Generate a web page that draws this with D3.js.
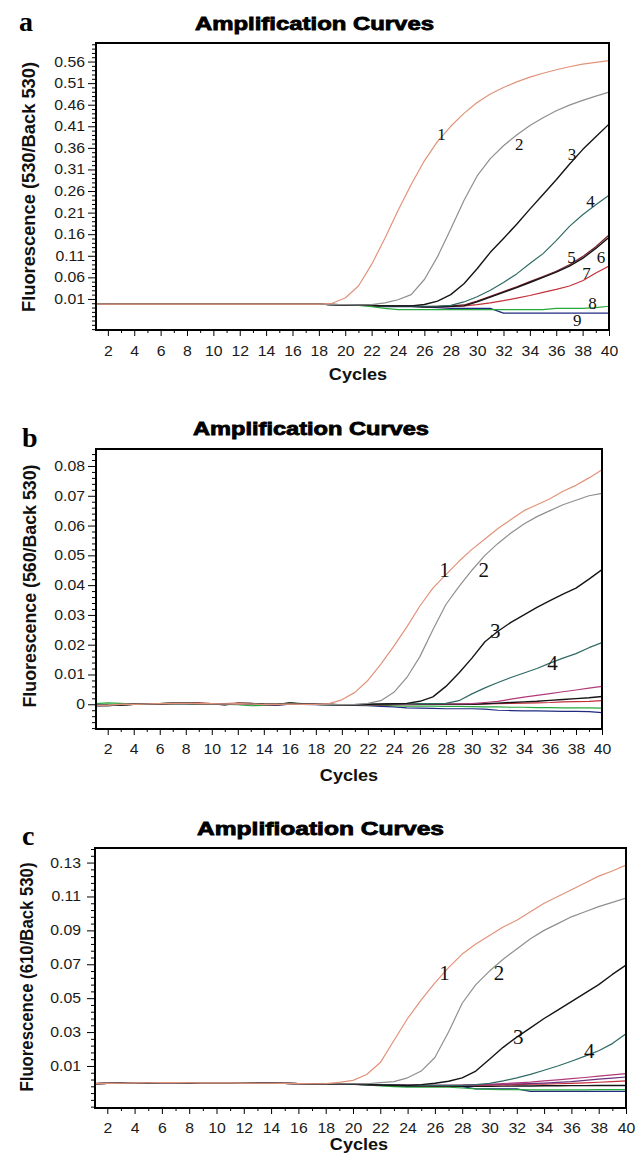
<!DOCTYPE html>
<html>
<head>
<meta charset="utf-8">
<script src="https://cdn.jsdelivr.net/npm/d3@7"></script>
<style>
  body { margin: 0; background: #fff; }
  svg { display: block; }
</style>
</head>
<body>
<div id="container"></div>
<script>
//*** chart data ***//
var cycles = [1,2,3,4,5,6,7,8,9,10,11,12,13,14,15,16,17,18,19,20,
              21,22,23,24,25,26,27,28,29,30,31,32,33,34,35,36,37,38,39,40];
var xTickValues = [2,4,6,8,10,12,14,16,18,20,22,24,26,28,30,32,34,36,38,40];
var aTickValues = [0.01,0.06,0.11,0.16,0.21,0.26,0.31,0.36,0.41,0.46,0.51,0.56];
var bTickValues = [0,0.01,0.02,0.03,0.04,0.05,0.06,0.07,0.08];
var cTickValues = [0.01,0.03,0.05,0.07,0.09,0.11,0.13];

// panel a: 530 channel
var aCurve1 = [-0.002,-0.002,-0.002,-0.002,-0.002,-0.002,-0.002,-0.002,-0.002,-0.002,
               -0.002,-0.002,-0.002,-0.002,-0.002,-0.002,-0.002,-0.002,0.000,0.012,
               0.040,0.090,0.150,0.215,0.275,0.330,0.375,0.410,0.440,0.465,
               0.485,0.500,0.513,0.524,0.533,0.541,0.548,0.554,0.558,0.562];
var aCurve2 = [-0.002,-0.002,-0.002,-0.002,-0.002,-0.002,-0.002,-0.002,-0.002,-0.002,
               -0.002,-0.002,-0.002,-0.002,-0.002,-0.002,-0.002,-0.002,-0.003,-0.003,
               -0.004,-0.003,0.001,0.008,0.020,0.055,0.108,0.172,0.238,0.295,
               0.335,0.365,0.390,0.412,0.430,0.446,0.459,0.470,0.480,0.489];
var aCurve3 = [-0.002,-0.002,-0.002,-0.002,-0.002,-0.002,-0.002,-0.002,-0.002,-0.002,
               -0.002,-0.002,-0.002,-0.002,-0.002,-0.002,-0.002,-0.002,-0.003,-0.004,
               -0.004,-0.005,-0.006,-0.006,-0.006,-0.003,0.005,0.020,0.045,0.080,
               0.118,0.150,0.183,0.218,0.252,0.286,0.322,0.356,0.386,0.415];
var aCurve4 = [-0.002,-0.002,-0.002,-0.002,-0.002,-0.002,-0.002,-0.002,-0.002,-0.002,
               -0.002,-0.002,-0.002,-0.002,-0.002,-0.002,-0.002,-0.002,-0.003,-0.004,
               -0.004,-0.005,-0.006,-0.006,-0.007,-0.007,-0.007,-0.005,0.003,0.015,
               0.030,0.048,0.068,0.092,0.115,0.145,0.178,0.205,0.228,0.250];
var aCurve5 = [-0.002,-0.002,-0.002,-0.002,-0.002,-0.002,-0.002,-0.002,-0.002,-0.002,
               -0.002,-0.002,-0.002,-0.002,-0.002,-0.002,-0.002,-0.002,-0.003,-0.004,
               -0.004,-0.005,-0.006,-0.007,-0.007,-0.008,-0.008,-0.007,-0.006,0.003,
               0.014,0.025,0.036,0.048,0.060,0.072,0.086,0.104,0.127,0.153];
var aCurve6 = [-0.002,-0.002,-0.002,-0.002,-0.002,-0.002,-0.002,-0.002,-0.002,-0.002,
               -0.002,-0.002,-0.002,-0.002,-0.002,-0.002,-0.002,-0.002,-0.003,-0.004,
               -0.004,-0.005,-0.006,-0.007,-0.007,-0.008,-0.007,-0.006,-0.004,0.005,
               0.016,0.027,0.038,0.050,0.062,0.074,0.089,0.108,0.131,0.158];
var aCurve7 = [-0.002,-0.002,-0.002,-0.002,-0.002,-0.002,-0.002,-0.002,-0.002,-0.002,
               -0.002,-0.002,-0.002,-0.002,-0.002,-0.002,-0.002,-0.002,-0.003,-0.004,
               -0.004,-0.005,-0.006,-0.007,-0.007,-0.008,-0.008,-0.008,-0.006,-0.003,
               0.001,0.006,0.012,0.018,0.025,0.032,0.040,0.052,0.070,0.086];
var aCurve8 = [-0.002,-0.002,-0.002,-0.002,-0.002,-0.002,-0.002,-0.002,-0.002,-0.002,
               -0.002,-0.002,-0.002,-0.002,-0.002,-0.002,-0.002,-0.002,-0.003,-0.004,
               -0.005,-0.008,-0.012,-0.015,-0.015,-0.015,-0.015,-0.015,-0.015,-0.015,
               -0.015,-0.015,-0.015,-0.015,-0.015,-0.012,-0.012,-0.012,-0.010,-0.007];
var aCurve9 = [-0.002,-0.002,-0.002,-0.002,-0.002,-0.002,-0.002,-0.002,-0.002,-0.002,
               -0.002,-0.002,-0.002,-0.002,-0.002,-0.002,-0.002,-0.002,-0.003,-0.004,
               -0.004,-0.006,-0.008,-0.008,-0.008,-0.009,-0.010,-0.012,-0.012,-0.012,
               -0.012,-0.023,-0.023,-0.023,-0.023,-0.023,-0.023,-0.023,-0.023,-0.023];

// panel b: 560 channel
var bCurve1 = [-0.0004,-0.0003,0.0000,0.0000,0.0001,0.0002,0.0003,0.0003,0.0002,0.0002,
               0.0001,0.0002,0.0001,0.0000,0.0000,0.0001,0.0000,0.0000,0.0002,0.0015,
               0.0040,0.0080,0.0135,0.0195,0.0260,0.0330,0.0390,0.0435,0.0480,0.0520,
               0.0555,0.0590,0.0620,0.0650,0.0670,0.0690,0.0715,0.0735,0.0760,0.0787];
var bCurve2 = [-0.0004,-0.0003,0.0000,0.0000,0.0001,0.0002,0.0003,0.0003,0.0002,0.0001,
               0.0001,0.0002,0.0001,-0.0001,0.0000,0.0001,0.0000,0.0000,0.0000,-0.0001,
               0.0000,0.0003,0.0012,0.0040,0.0090,0.0160,0.0250,0.0335,0.0395,0.0450,
               0.0500,0.0540,0.0575,0.0605,0.0630,0.0650,0.0670,0.0685,0.0700,0.0708];
var bCurve3 = [-0.0004,-0.0004,-0.0002,0.0000,0.0001,0.0002,0.0004,0.0004,0.0003,0.0002,
               -0.0002,0.0003,0.0003,0.0000,-0.0001,0.0004,0.0001,0.0000,0.0000,-0.0002,
               -0.0002,0.0000,0.0001,0.0002,0.0003,0.0010,0.0025,0.0060,0.0105,0.0155,
               0.0210,0.0245,0.0275,0.0300,0.0325,0.0348,0.0370,0.0390,0.0420,0.0452];
var bCurve4 = [-0.0003,-0.0003,-0.0001,0.0000,0.0001,0.0002,0.0003,0.0003,0.0002,0.0001,
               0.0000,0.0002,0.0002,-0.0001,-0.0002,0.0003,0.0000,0.0000,-0.0001,-0.0002,
               -0.0002,-0.0002,0.0000,0.0001,0.0001,0.0002,0.0002,0.0003,0.0012,0.0035,
               0.0055,0.0073,0.0090,0.0105,0.0120,0.0138,0.0155,0.0170,0.0190,0.0207];
var bCurve5 = [-0.0003,-0.0002,0.0000,0.0000,0.0001,0.0001,0.0002,0.0002,0.0002,0.0001,
               0.0000,0.0001,0.0001,-0.0001,-0.0003,0.0002,0.0000,0.0000,-0.0001,-0.0002,
               -0.0002,-0.0002,-0.0001,0.0000,0.0000,0.0001,0.0001,0.0001,0.0001,0.0002,
               0.0006,0.0010,0.0017,0.0024,0.0030,0.0036,0.0042,0.0048,0.0054,0.0060];
var bCurve6 = [-0.0004,-0.0004,-0.0003,0.0000,0.0001,0.0002,0.0004,0.0003,0.0002,0.0002,
               -0.0001,0.0003,0.0002,0.0000,0.0000,0.0004,0.0002,0.0000,-0.0001,-0.0002,
               -0.0002,-0.0001,-0.0001,0.0000,0.0000,0.0000,0.0000,0.0000,0.0000,0.0000,
               0.0002,0.0004,0.0006,0.0008,0.0010,0.0013,0.0016,0.0019,0.0022,0.0026];
var bCurve7 = [0.0002,0.0005,0.0003,0.0001,0.0000,0.0000,0.0001,0.0001,0.0000,0.0000,
               0.0000,-0.0001,-0.0005,-0.0004,0.0000,0.0005,0.0001,0.0000,-0.0002,-0.0003,
               -0.0003,-0.0004,-0.0004,-0.0005,-0.0006,-0.0006,-0.0006,-0.0007,-0.0007,-0.0008,
               -0.0009,-0.0009,-0.0010,-0.0010,-0.0011,-0.0011,-0.0012,-0.0012,-0.0012,-0.0013];
var bCurve8 = [-0.0003,-0.0003,-0.0001,0.0000,0.0000,0.0000,0.0001,0.0001,0.0000,0.0000,
               0.0000,0.0000,-0.0001,-0.0003,-0.0004,0.0000,0.0000,-0.0001,-0.0002,-0.0003,
               -0.0004,-0.0005,-0.0007,-0.0009,-0.0012,-0.0013,-0.0014,-0.0015,-0.0015,-0.0015,
               -0.0016,-0.0020,-0.0021,-0.0022,-0.0022,-0.0023,-0.0024,-0.0024,-0.0025,-0.0028];
var bCurve9 = [-0.0005,-0.0004,-0.0001,0.0000,0.0000,0.0001,0.0003,0.0004,0.0005,0.0002,
               0.0002,0.0004,0.0003,0.0000,0.0000,0.0002,0.0000,0.0000,0.0000,-0.0002,
               -0.0002,-0.0002,-0.0002,-0.0001,-0.0001,0.0000,0.0000,0.0000,0.0000,0.0000,
               0.0001,0.0002,0.0003,0.0004,0.0005,0.0006,0.0008,0.0009,0.0010,0.0012];

// panel c: 610 channel
var cCurve1 = [-0.0004,-0.0003,-0.0002,0.0000,0.0001,0.0002,0.0002,0.0001,0.0000,0.0000,
               0.0000,-0.0001,-0.0002,-0.0002,-0.0003,-0.0004,-0.0005,-0.0004,0.0003,0.0015,
               0.0050,0.0120,0.0250,0.0380,0.0490,0.0590,0.0680,0.0760,0.0820,0.0870,
               0.0920,0.0960,0.1010,0.1060,0.1100,0.1140,0.1180,0.1220,0.1250,0.1285];
var cCurve2 = [-0.0004,-0.0003,-0.0002,0.0000,0.0001,0.0002,0.0002,0.0001,0.0000,0.0000,
               0.0000,-0.0001,-0.0002,-0.0002,-0.0003,-0.0004,-0.0005,-0.0005,-0.0005,-0.0005,
               -0.0005,0.0002,0.0008,0.0030,0.0070,0.0150,0.0300,0.0470,0.0580,0.0660,
               0.0730,0.0790,0.0850,0.0900,0.0940,0.0980,0.1010,0.1040,0.1065,0.1090];
var cCurve3 = [-0.0004,-0.0003,-0.0002,0.0000,0.0001,0.0002,0.0002,0.0001,0.0000,0.0000,
               0.0000,-0.0001,-0.0002,-0.0002,-0.0003,-0.0004,-0.0006,-0.0006,-0.0007,-0.0008,
               -0.0010,-0.0012,-0.0014,-0.0015,-0.0010,-0.0002,0.0010,0.0030,0.0070,0.0140,
               0.0210,0.0270,0.0325,0.0380,0.0430,0.0480,0.0530,0.0580,0.0640,0.0695];
var cCurve4 = [-0.0004,-0.0003,-0.0002,0.0000,0.0001,0.0002,0.0002,0.0001,0.0000,0.0000,
               0.0000,-0.0001,-0.0002,-0.0002,-0.0003,-0.0004,-0.0006,-0.0006,-0.0007,-0.0008,
               -0.0008,-0.0010,-0.0012,-0.0014,-0.0015,-0.0015,-0.0015,-0.0014,-0.0010,-0.0003,
               0.0012,0.0030,0.0050,0.0075,0.0100,0.0128,0.0158,0.0190,0.0232,0.0290];
var cCurve5 = [-0.0004,-0.0003,-0.0002,0.0000,0.0001,0.0002,0.0002,0.0001,0.0000,0.0000,
               0.0000,-0.0001,-0.0002,-0.0002,-0.0003,-0.0004,-0.0006,-0.0006,-0.0007,-0.0008,
               -0.0008,-0.0010,-0.0012,-0.0013,-0.0014,-0.0014,-0.0014,-0.0013,-0.0010,-0.0008,
               -0.0004,0.0000,0.0005,0.0012,0.0018,0.0025,0.0032,0.0040,0.0047,0.0055];
var cCurve6 = [-0.0004,-0.0003,-0.0002,0.0000,0.0001,0.0002,0.0002,0.0001,0.0000,0.0000,
               0.0000,-0.0001,-0.0002,-0.0002,-0.0003,-0.0004,-0.0006,-0.0006,-0.0007,-0.0008,
               -0.0009,-0.0011,-0.0013,-0.0014,-0.0015,-0.0015,-0.0015,-0.0014,-0.0012,-0.0010,
               -0.0008,-0.0006,-0.0004,-0.0001,0.0003,0.0008,0.0015,0.0022,0.0028,0.0035];
var cCurve7 = [-0.0004,-0.0003,-0.0002,0.0000,0.0001,0.0002,0.0002,0.0001,0.0000,0.0000,
               0.0000,-0.0001,-0.0002,-0.0002,-0.0003,-0.0004,-0.0006,-0.0006,-0.0007,-0.0008,
               -0.0009,-0.0011,-0.0013,-0.0015,-0.0016,-0.0016,-0.0016,-0.0015,-0.0014,-0.0013,
               -0.0012,-0.0010,-0.0008,-0.0007,-0.0005,-0.0003,0.0000,0.0004,0.0008,0.0012];
var cCurve8 = [-0.0004,-0.0003,-0.0002,0.0000,0.0001,0.0002,0.0002,0.0001,0.0000,0.0000,
               0.0000,-0.0001,-0.0002,-0.0002,-0.0003,-0.0004,-0.0006,-0.0006,-0.0007,-0.0008,
               -0.0010,-0.0013,-0.0015,-0.0016,-0.0017,-0.0018,-0.0018,-0.0020,-0.0020,-0.0020,
               -0.0019,-0.0018,-0.0018,-0.0017,-0.0017,-0.0016,-0.0016,-0.0015,-0.0015,-0.0015];
var cCurve9 = [-0.0004,-0.0003,-0.0002,0.0000,0.0001,0.0002,0.0002,0.0001,0.0000,0.0000,
               0.0000,-0.0001,-0.0002,-0.0002,-0.0003,-0.0004,-0.0006,-0.0006,-0.0007,-0.0008,
               -0.0012,-0.0018,-0.0022,-0.0025,-0.0025,-0.0025,-0.0025,-0.0030,-0.0035,-0.0038,
               -0.0040,-0.0040,-0.0041,-0.0041,-0.0041,-0.0041,-0.0041,-0.0040,-0.0040,-0.0040];
var cCurve10 = [-0.0004,-0.0003,-0.0002,0.0000,0.0001,0.0002,0.0002,0.0001,0.0000,0.0000,
                0.0000,-0.0001,-0.0002,-0.0002,-0.0003,-0.0004,-0.0006,-0.0006,-0.0007,-0.0008,
                -0.0011,-0.0015,-0.0018,-0.0020,-0.0020,-0.0020,-0.0020,-0.0022,-0.0035,-0.0035,
                -0.0035,-0.0035,-0.0050,-0.0050,-0.0050,-0.0050,-0.0050,-0.0050,-0.0050,-0.0050];

// curve number labels: [text, cycle, fluorescence]
var aLabels = [["1",27.3,0.392],["2",33.2,0.369],["3",37.2,0.346],["4",38.6,0.237],
               ["5",37.15,0.108],["6",39.4,0.108],["7",38.3,0.071],["8",38.75,0.001],["9",37.6,-0.039]];
var bLabels = [["1",27.9,0.0451],["2",30.9,0.0451],["3",31.8,0.0247],["4",36.2,0.014]];
var cLabels = [["1",26.7,0.0649],["2",30.7,0.0649],["3",32.1,0.0271],["4",37.3,0.0189]];

//colours used by the instrument software
var salmon = "#e2937a", gray = "#8f8f8f", black = "#151515", teal = "#2f6a64",
    darkRed = "#7c1c2a", red = "#c4303b", green = "#27a83a", navy = "#1f2b80",
    magenta = "#b13a7a", purple = "#6b2e7e";

var sansFont = "'Liberation Sans', Arial, sans-serif";
var serifFont = "'Liberation Serif', 'Times New Roman', serif";

var panels = [
	{
		letter: "a", letterX: 19, letterY: 31,
		title: "Amplification Curves", titleX: 195, titleY: 30, titleW: 239,
		yTitle: "Fluorescence (530/Back 530)", yTitleX: 35, yTitleY: 187, yTitleW: 250,
		left: 96, right: 609, top: 43, bottom: 330,
		xDomain: [1.1, 40], yDomain: [-0.062, 0.603],
		yTicks: aTickValues, yMinorStep: 0.01, yLabelGap: 11,
		yFormat: d3.format(".2f"),
		xLabelDy: 26, cyclesX: 358, cyclesY: 380,
		labelSize: 17, labels: aLabels,
		series: [[aCurve9, navy], [aCurve8, green], [aCurve7, red], [aCurve6, darkRed],
		         [aCurve5, black], [aCurve4, teal], [aCurve3, black], [aCurve2, gray], [aCurve1, salmon]]
	},
	{
		letter: "b", letterX: 22, letterY: 447,
		title: "Amplification Curves", titleX: 193, titleY: 435, titleW: 236,
		yTitle: "Fluorescence (560/Back 530)", yTitleX: 36, yTitleY: 586, yTitleW: 243,
		left: 96, right: 602, top: 449, bottom: 729,
		xDomain: [1.1, 40], yDomain: [-0.0083, 0.0857],
		yTicks: bTickValues, yMinorStep: 0.002, yLabelGap: 11,
		yFormat: function(d) { return d === 0 ? "0" : d3.format(".2f")(d); },
		xLabelDy: 25, cyclesX: 349, cyclesY: 781,
		labelSize: 21, labels: bLabels,
		series: [[bCurve8, navy], [bCurve7, green], [bCurve9, red], [bCurve6, black],
		         [bCurve5, magenta], [bCurve4, teal], [bCurve3, black], [bCurve2, gray], [bCurve1, salmon]]
	},
	{
		letter: "c", letterX: 22, letterY: 845,
		title: "Amplifioation Curves", titleX: 197, titleY: 835, titleW: 247,
		yTitle: "Fluorescence (610/Back 530)", yTitleX: 33, yTitleY: 977, yTitleW: 229,
		left: 95, right: 626, top: 848, bottom: 1108,
		xDomain: [1.1, 40], yDomain: [-0.0148, 0.1386],
		yTicks: cTickValues, yMinorStep: 0.004, yLabelGap: 14,
		yFormat: d3.format(".2f"),
		xLabelDy: 25, cyclesX: 359, cyclesY: 1150,
		labelSize: 21, labels: cLabels,
		series: [[cCurve10, navy], [cCurve9, green], [cCurve8, black], [cCurve7, red],
		         [cCurve6, purple], [cCurve5, magenta], [cCurve4, teal], [cCurve3, black],
		         [cCurve2, gray], [cCurve1, salmon]]
	}
];

var svg = d3.select("#container")
	.append("svg")
	.attr("width", 644)
	.attr("height", 1157);

//minor tick positions, counted from the first major tick
function minorTicks(p) {
	var base = p.yTicks[0];
	var k0 = Math.ceil((p.yDomain[0] - base) / p.yMinorStep);
	var k1 = Math.floor((p.yDomain[1] - base) / p.yMinorStep);
	var out = [];
	for (var k = k0; k <= k1; k++) {
		var v = base + k * p.yMinorStep;
		var isMajor = p.yTicks.some(function(t) { return Math.abs(t - v) < p.yMinorStep / 10; });
		if (!isMajor) out.push(v);
	}
	return out;
}

//*** draw one amplification panel ***//
function drawPanel(p) {
	var g = svg.append("g");

	var x = d3.scaleLinear().domain(p.xDomain).range([p.left, p.right]);
	var y = d3.scaleLinear().domain(p.yDomain).range([p.bottom, p.top]);

	var clipId = "clip-" + p.letter;
	svg.append("clipPath")
		.attr("id", clipId)
		.append("rect")
		.attr("x", p.left)
		.attr("y", p.top)
		.attr("width", p.right - p.left)
		.attr("height", p.bottom - p.top);

	//y axis: minor comb then major ticks with labels
	g.append("g")
		.attr("transform", "translate(" + p.left + ",0)")
		.call(d3.axisLeft(y).tickValues(minorTicks(p)).tickSize(4).tickFormat(""))
		.call(function(s) { s.select(".domain").remove(); });

	var yAxis = g.append("g")
		.attr("transform", "translate(" + p.left + ",0)")
		.call(d3.axisLeft(y).tickValues(p.yTicks).tickSize(8).tickFormat(p.yFormat));
	yAxis.select(".domain").remove();
	yAxis.selectAll("text")
		.attr("x", null)
		.attr("transform", "translate(" + (-p.yLabelGap) + ",0) scale(1.13,1)")
		.attr("font-family", sansFont)
		.attr("font-size", 14)
		.attr("fill", "#1a1a1a");

	//x axis
	g.append("g")
		.attr("transform", "translate(0," + p.bottom + ")")
		.call(d3.axisBottom(x).tickValues(cycles.filter(function(c) { return c % 2 === 1 && c > 1; }))
			.tickSize(3).tickFormat(""))
		.call(function(s) { s.select(".domain").remove(); });

	var xAxis = g.append("g")
		.attr("transform", "translate(0," + p.bottom + ")")
		.call(d3.axisBottom(x).tickValues(xTickValues).tickSize(6).tickFormat(d3.format("d")));
	xAxis.select(".domain").remove();
	xAxis.selectAll("text")
		.attr("y", null)
		.attr("dy", null)
		.attr("transform", "translate(0," + p.xLabelDy + ") scale(1.13,1)")
		.attr("font-family", sansFont)
		.attr("font-size", 14)
		.attr("fill", "#1a1a1a");

	//curves
	var line = d3.line()
		.x(function(d, i) { return x(cycles[i]); })
		.y(function(d) { return y(d); });

	g.append("g")
		.attr("clip-path", "url(#" + clipId + ")")
		.selectAll("path")
		.data(p.series)
		.enter()
		.append("path")
		.attr("d", function(s) { return line(s[0]); })
		.attr("fill", "none")
		.attr("stroke", function(s) { return s[1]; })
		.attr("stroke-width", function(s) { return s[1] === black ? 1.4 : 1.2; })
		.attr("stroke-linejoin", "round");

	//frame
	g.append("rect")
		.attr("x", p.left)
		.attr("y", p.top)
		.attr("width", p.right - p.left)
		.attr("height", p.bottom - p.top)
		.attr("fill", "none")
		.attr("stroke", "#000")
		.attr("stroke-width", 2);

	//curve numbers
	g.selectAll(".num")
		.data(p.labels)
		.enter()
		.append("text")
		.attr("class", "num")
		.attr("x", function(d) { return x(d[1]); })
		.attr("y", function(d) { return y(d[2]); })
		.attr("dy", "0.35em")
		.attr("text-anchor", "middle")
		.attr("font-family", serifFont)
		.attr("font-size", p.labelSize)
		.attr("fill", "#111")
		.text(function(d) { return d[0]; });

	//titles
	g.append("text")
		.attr("x", p.titleX)
		.attr("y", p.titleY)
		.attr("textLength", p.titleW)
		.attr("lengthAdjust", "spacingAndGlyphs")
		.attr("font-family", sansFont)
		.attr("font-weight", "bold")
		.attr("font-size", 18)
		.attr("stroke", "#000")
		.attr("stroke-width", 0.8)
		.text(p.title);

	g.append("text")
		.attr("transform", "translate(" + p.yTitleX + "," + p.yTitleY + ") rotate(-90)")
		.attr("text-anchor", "middle")
		.attr("textLength", p.yTitleW)
		.attr("lengthAdjust", "spacingAndGlyphs")
		.attr("font-family", sansFont)
		.attr("font-weight", "bold")
		.attr("font-size", 18)
		.attr("fill", "#111")
		.text(p.yTitle);

	g.append("text")
		.attr("transform", "translate(" + p.cyclesX + "," + p.cyclesY + ") scale(1.13,1)")
		.attr("text-anchor", "middle")
		.attr("font-family", sansFont)
		.attr("font-weight", "bold")
		.attr("font-size", 16)
		.attr("fill", "#111")
		.text("Cycles");

	g.append("text")
		.attr("x", p.letterX)
		.attr("y", p.letterY)
		.attr("font-family", serifFont)
		.attr("font-weight", "bold")
		.attr("font-size", 28)
		.attr("fill", "#000")
		.text(p.letter);
}

panels.forEach(drawPanel);
</script>
</body>
</html>
